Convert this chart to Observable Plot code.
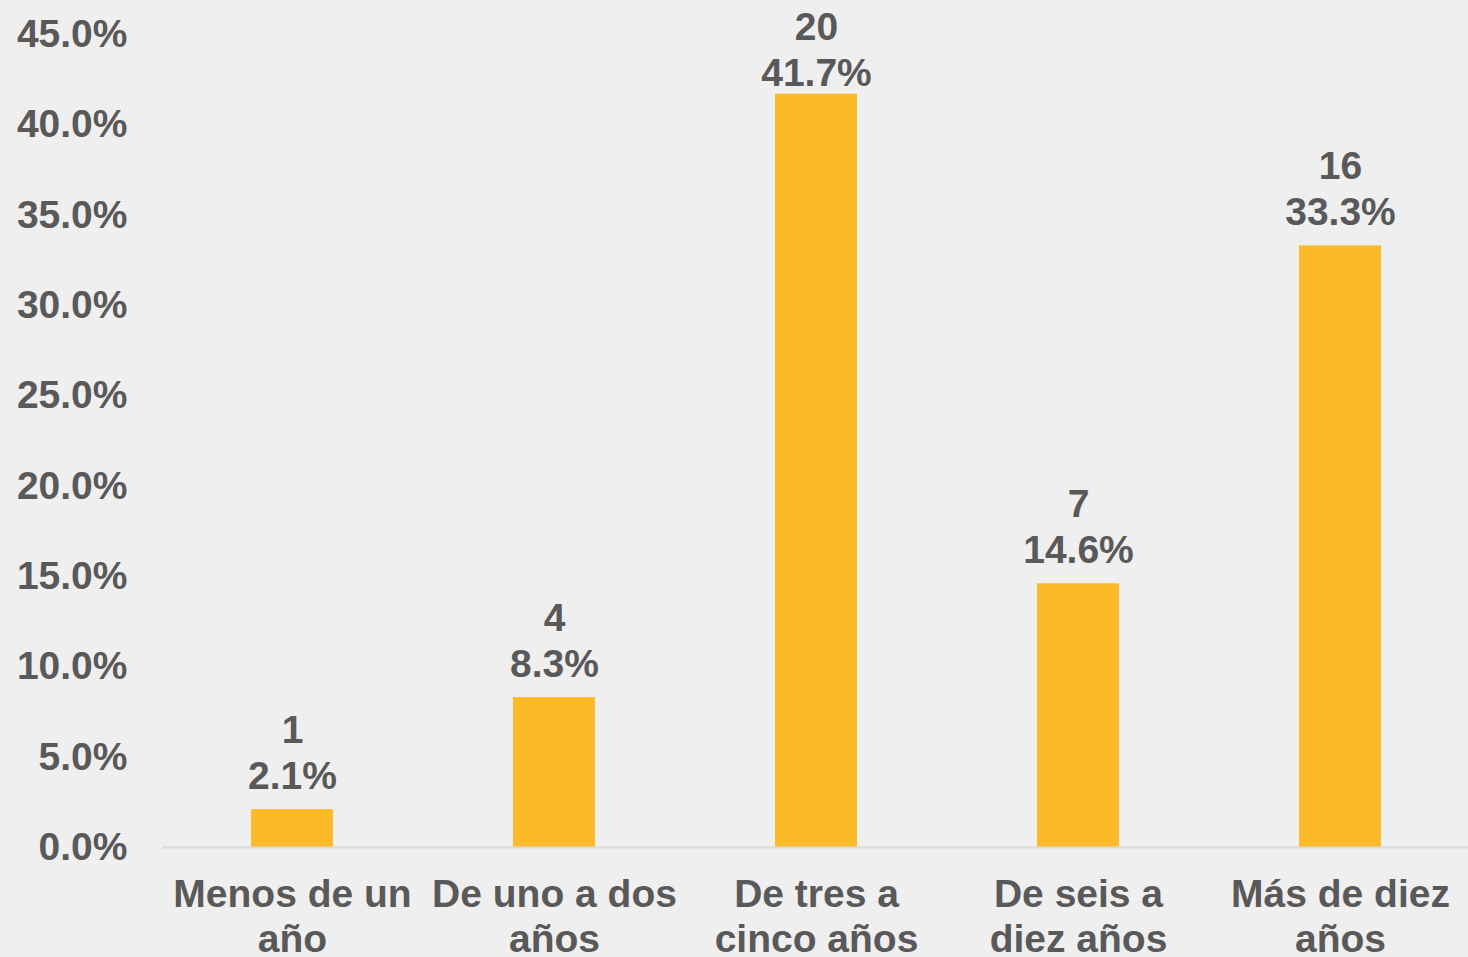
<!DOCTYPE html>
<html>
<head>
<meta charset="utf-8">
<script src="https://cdn.jsdelivr.net/npm/d3@7"></script>
<script src="https://cdn.jsdelivr.net/npm/@observablehq/plot@0.6"></script>
<style>
  html, body { margin: 0; padding: 0; background: #f0eff0; }
  #chart svg { display: block; }
</style>
</head>
<body>
<div id="chart"></div>
<script>
const categories = ["Menos de un año", "De uno a dos años", "De tres a cinco años", "De seis a diez años", "Más de diez años"];
const tickLabels = ["Menos de un\naño", "De uno a dos\naños", "De tres a\ncinco años", "De seis a\ndiez años", "Más de diez\naños"];
const counts = [1, 4, 20, 7, 16];
const percents = [2.1, 8.3, 41.7, 14.6, 33.3];
const yTicks = [0, 5, 10, 15, 20, 25, 30, 35, 40, 45];

const data = categories.map((c, i) => ({cat: c, tick: tickLabels[i], n: counts[i], pct: percents[i]}));

const font = "'Liberation Sans', Arial, Helvetica, sans-serif";
const textColor = "#595959";
const labelText = d => d.n + "\n" + d.pct.toFixed(1) + "%";

const chart = Plot.plot({
  width: 1468,
  height: 957,
  marginLeft: 162,
  marginRight: 0,
  marginTop: 34,
  marginBottom: 110,
  style: {background: "#f0eff0", fontFamily: font, fontWeight: "bold", color: textColor},
  x: {domain: categories, range: [161, 1472], paddingInner: 0.686, paddingOuter: 0.343, axis: null},
  y: {domain: [0, 45], axis: null},
  marks: [
    Plot.axisY({ticks: yTicks, tickSize: 0, tickPadding: 35, label: null, tickFormat: d => d.toFixed(1) + "%", fontSize: 39, fill: textColor, fontWeight: "bold"}),
    Plot.barY(data, {x: "cat", y: "pct", fill: "#fbbb28"}),
    Plot.ruleY([0], {stroke: "#d9d9d9", strokeWidth: 2}),
    Plot.text(data.filter(d => d.pct < 40), {x: "cat", y: "pct", text: labelText, lineAnchor: "bottom", dy: -21, fontSize: 39, fontWeight: "bold", fill: textColor, lineHeight: 1.18}),
    Plot.text(data.filter(d => d.pct >= 40), {x: "cat", y: "pct", text: labelText, lineAnchor: "bottom", dy: -8, fontSize: 39, fontWeight: "bold", fill: textColor, lineHeight: 1.18}),
    Plot.text(data, {x: "cat", y: 0, text: "tick", lineAnchor: "top", dy: 27, fontSize: 39, fontWeight: "bold", fill: textColor, lineHeight: 1.16})
  ]
});
document.getElementById("chart").appendChild(chart);
</script>
</body>
</html>
